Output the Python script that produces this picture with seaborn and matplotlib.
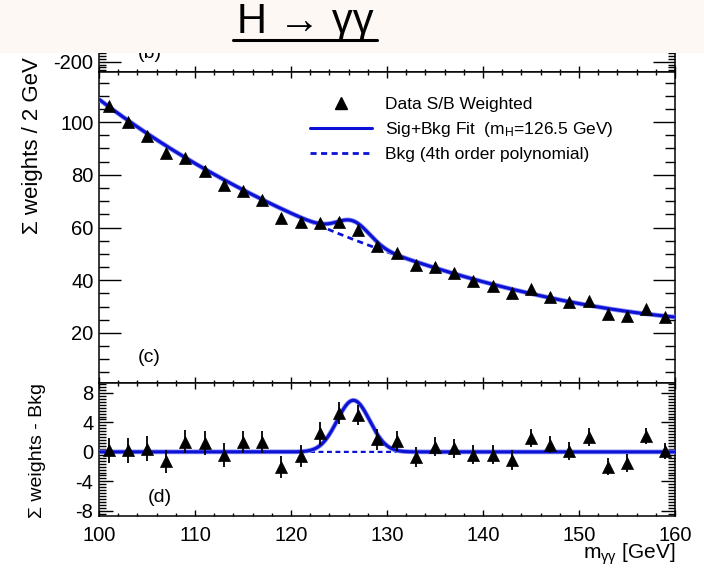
import numpy as np
import matplotlib
matplotlib.use("Agg")
import matplotlib.pyplot as plt
from matplotlib.patches import Rectangle
from matplotlib.lines import Line2D
from matplotlib.ticker import MultipleLocator, FixedLocator
import seaborn as sns

# ---- data: S/B weighted diphoton mass spectrum, 2 GeV bins ----
mass = [101, 103, 105, 107, 109, 111, 113, 115, 117, 119,
        121, 123, 125, 127, 129, 131, 133, 135, 137, 139,
        141, 143, 145, 147, 149, 151, 153, 155, 157, 159]
weighted = [106.0, 100.0, 94.6, 88.3, 86.2, 81.6, 76.0, 74.0, 70.3, 63.6,
            62.0, 61.7, 62.1, 59.2, 52.8, 50.3, 45.9, 45.2, 42.9, 39.8,
            37.9, 35.3, 36.6, 33.8, 31.8, 32.3, 27.1, 26.5, 29.0, 26.2]
residual = [0.2, 0.2, 0.4, -1.3, 1.4, 1.2, -0.4, 1.4, 1.4, -2.1,
            -0.6, 2.5, 5.3, 5.0, 1.7, 1.5, -0.7, 0.7, 0.5, -0.4,
            -0.4, -1.1, 1.9, 1.0, 0.1, 2.0, -2.0, -1.5, 2.2, 0.1]
errors = [1.7, 1.7, 1.7, 1.6, 1.6, 1.6, 1.6, 1.5, 1.5, 1.5,
          1.5, 1.5, 1.5, 1.4, 1.4, 1.4, 1.4, 1.3, 1.3, 1.3,
          1.3, 1.3, 1.2, 1.2, 1.2, 1.2, 1.2, 1.2, 1.1, 1.1]

# background shape (4th order polynomial through these levels)
bkg_mass = [100, 110, 120, 130, 140, 150, 160]
bkg_level = [108.6, 84.5, 65.0, 51.3, 39.0, 31.3, 26.0]

# signal component of the fit
m_higgs = 126.5
sig_height = 7.0
sig_width = 1.7

BLUE = "#0b12d6"
HALO = "#8c90f0"

sns.set_theme(style="ticks")
plt.rcParams["font.family"] = ["Liberation Sans", "DejaVu Sans"]
plt.rcParams["mathtext.fontset"] = "custom"
plt.rcParams["mathtext.rm"] = "Liberation Sans"
plt.rcParams["mathtext.it"] = "Liberation Sans"
plt.rcParams["axes.unicode_minus"] = False
for key in ("text.color", "axes.labelcolor", "xtick.color", "ytick.color",
            "xtick.labelcolor", "ytick.labelcolor", "axes.edgecolor"):
    plt.rcParams[key] = "black"

poly = np.polyfit(bkg_mass, bkg_level, 4)
grid = np.linspace(100, 160, 1201)
bkg_curve = np.polyval(poly, grid)
sig_curve = sig_height * np.exp(-0.5 * ((grid - m_higgs) / sig_width) ** 2)

W, H = 704, 572
fig = plt.figure(figsize=(W / 100, H / 100), dpi=100)
fig.patch.set_facecolor("white")

L, R = 99, 675
def box(top, bottom):
    return [L / W, (H - bottom) / H, (R - L) / W, (bottom - top) / H]

ax_b = fig.add_axes(box(-10, 72))
ax_c = fig.add_axes(box(72, 383))
ax_d = fig.add_axes(box(383, 516))

for ax in (ax_b, ax_c, ax_d):
    ax.set_xlim(100, 160)
    ax.set_facecolor("white")
    for s in ax.spines.values():
        s.set_visible(True)
        s.set_color("black")
        s.set_linewidth(1.1)
    ax.xaxis.set_major_locator(MultipleLocator(10))
    ax.xaxis.set_minor_locator(MultipleLocator(2))
    ax.tick_params(axis="x", which="both", direction="in", top=True, bottom=True,
                   color="black", width=1.0, labelbottom=False)
    ax.tick_params(axis="x", which="major", length=4.5)
    ax.tick_params(axis="x", which="minor", length=2.2)
    ax.tick_params(axis="y", which="both", direction="in", left=True, right=True,
                   color="black", width=1.0, labelsize=14.5, pad=4)
    ax.set_xlabel("")
    ax.set_ylabel("")

# ---- panel (b), mostly hidden beneath the title band ----
ax_b.set_ylim(-236, 52)
ax_b.yaxis.set_major_locator(FixedLocator([-200]))
ax_b.yaxis.set_minor_locator(MultipleLocator(10))
ax_b.tick_params(axis="y", which="major", length=16)
ax_b.tick_params(axis="y", which="minor", length=5)
ax_b.spines["top"].set_visible(False)
ax_b.text(0.068, 0.167, "(b)", transform=ax_b.transAxes, fontsize=14,
          va="baseline", ha="left")

# ---- panel (c): weighted spectrum with fits ----
ax_c.set_ylim(1, 119)
ax_c.yaxis.set_major_locator(MultipleLocator(20))
ax_c.yaxis.set_minor_locator(MultipleLocator(5))
ax_c.tick_params(axis="y", which="major", length=16)
ax_c.tick_params(axis="y", which="minor", length=7)

sns.lineplot(x=grid, y=bkg_curve, ax=ax_c, color=BLUE, lw=2.0,
             linestyle=(0, (2.2, 1.6)), zorder=2)
sns.lineplot(x=grid, y=bkg_curve + sig_curve, ax=ax_c, color=HALO, lw=3.4, zorder=3)
sns.lineplot(x=grid, y=bkg_curve + sig_curve, ax=ax_c, color=BLUE, lw=2.2, zorder=3)
ax_c.errorbar(mass, weighted, yerr=errors, fmt="none", ecolor="black",
              elinewidth=1.3, capsize=0, zorder=4)
sns.scatterplot(x=mass, y=weighted, ax=ax_c, marker="^", s=75, color="black",
                edgecolor="black", linewidth=0.5, zorder=5)
ax_c.text(0.068, 0.083, "(c)", transform=ax_c.transAxes, fontsize=14,
          va="center", ha="left")

handles = [
    Line2D([], [], color="black", marker="^", markersize=8, linestyle="none"),
    Line2D([], [], color=BLUE, lw=2.2),
    Line2D([], [], color=BLUE, lw=2.0, linestyle=(0, (2.2, 1.6))),
]
labels = ["Data S/B Weighted",
          r"Sig+Bkg Fit  (m$_{\rm H}$=126.5 GeV)",
          "Bkg (4th order polynomial)"]
ax_c.legend(handles, labels, loc="upper left", bbox_to_anchor=(0.366, 0.92),
            frameon=False, fontsize=12.5, handlelength=3.6, handletextpad=0.75,
            labelspacing=0.45, borderpad=0, borderaxespad=0)

# ---- panel (d): background-subtracted ----
ax_d.set_ylim(-8.7, 9.35)
ax_d.yaxis.set_major_locator(MultipleLocator(4))
ax_d.yaxis.set_minor_locator(MultipleLocator(0.4))
ax_d.tick_params(axis="y", which="major", length=10)
ax_d.tick_params(axis="y", which="minor", length=5)
ax_d.tick_params(axis="x", which="major", labelbottom=True, labelsize=14.5, pad=7)

sns.lineplot(x=grid, y=np.zeros_like(grid), ax=ax_d, color=BLUE, lw=1.6,
             linestyle=(0, (2.2, 1.6)), zorder=2)
sns.lineplot(x=grid, y=sig_curve, ax=ax_d, color=HALO, lw=3.4, zorder=3)
sns.lineplot(x=grid, y=sig_curve, ax=ax_d, color=BLUE, lw=2.2, zorder=3)
ax_d.errorbar(mass, residual, yerr=errors, fmt="none", ecolor="black",
              elinewidth=1.3, capsize=0, zorder=4)
sns.scatterplot(x=mass, y=residual, ax=ax_d, marker="^", s=75, color="black",
                edgecolor="black", linewidth=0.5, zorder=5)
ax_d.text(0.085, 0.14, "(d)", transform=ax_d.transAxes, fontsize=14,
          va="center", ha="left")

# axis titles
fig.text(33 / W, 1 - 57 / H, "\u03a3 weights / 2 GeV", rotation=90, fontsize=16,
         ha="center", va="top", zorder=20)
fig.text(37 / W, 1 - 451 / H, "\u03a3 weights - Bkg", rotation=90, fontsize=14,
         ha="center", va="center", zorder=20)
fig.text(R / W, 1 - 554 / H, r"m$_{\gamma\gamma}$ [GeV]", fontsize=15,
         ha="right", va="center", zorder=20)

# title band
fig.add_artist(Rectangle((0, 1 - 53 / H), 1, 53 / H, transform=fig.transFigure,
                         facecolor="#fdf8f4", edgecolor="none", zorder=10))
fig.text(305 / W, 1 - 22 / H, "H \u2192 \u03b3\u03b3", fontsize=30,
         family=["Liberation Sans Narrow", "Liberation Sans", "DejaVu Sans"],
         color="black", ha="center", va="center", zorder=12)
fig.add_artist(Line2D([233 / W, 377 / W], [1 - 40 / H, 1 - 40 / H],
                      transform=fig.transFigure, color="black", lw=2.2, zorder=12))

fig.savefig("out.png", dpi=100)
